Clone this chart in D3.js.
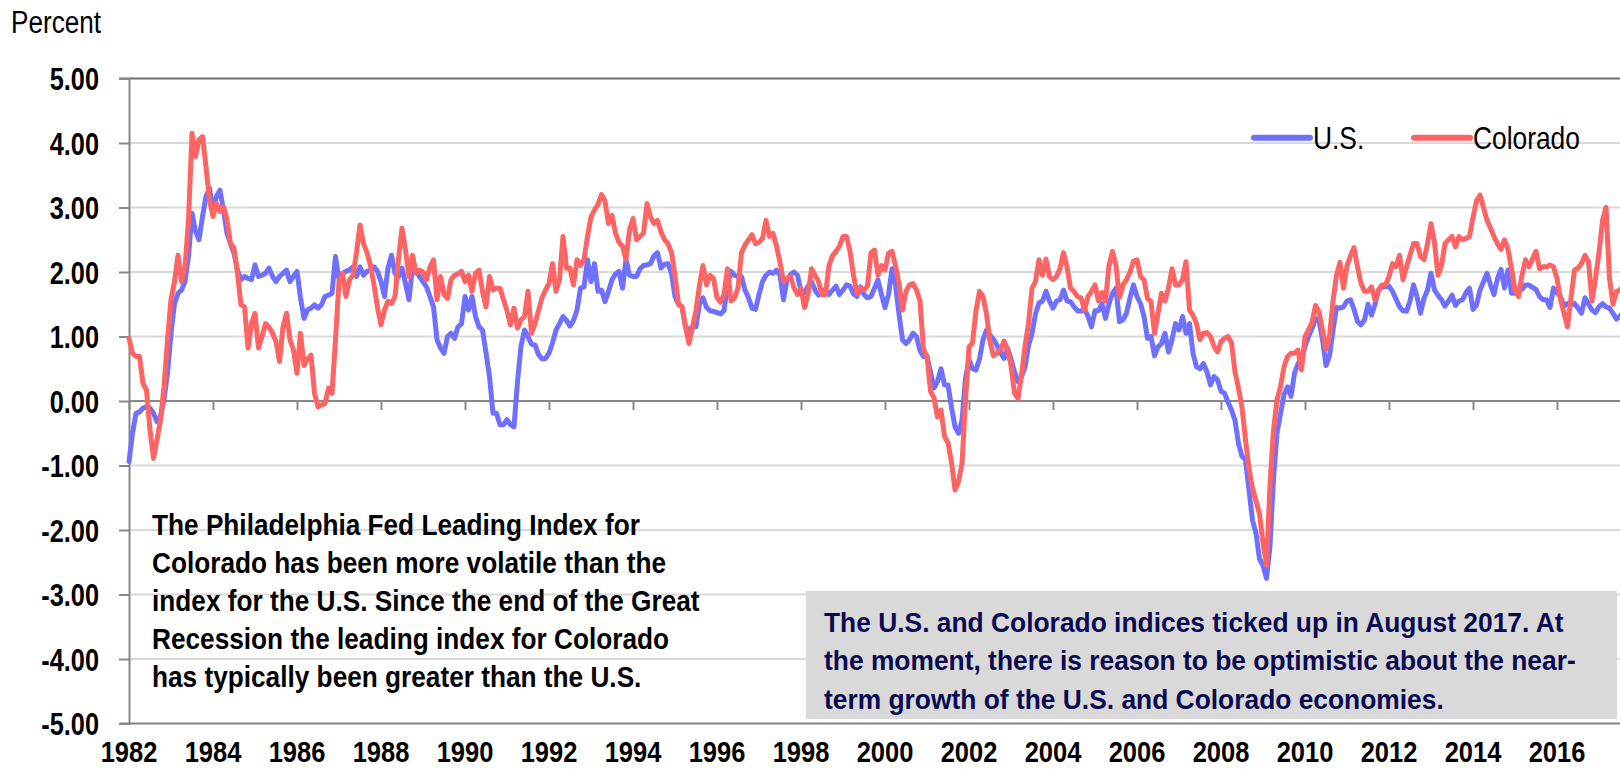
<!DOCTYPE html>
<html><head><meta charset="utf-8">
<script src="https://cdn.jsdelivr.net/npm/d3@7"></script>
<style>
html,body{margin:0;padding:0;background:#fff;}
svg{display:block;}
</style></head><body><svg id="chart" width="1620" height="769"></svg>
<script>
// Monthly values, Jan 1982 .. Aug 2017
const startYear = 1982;
const usValues = [
-0.94,-0.50,-0.19,-0.17,-0.11,-0.09,-0.11,-0.19,-0.32,-0.24,
0.02,0.43,1.05,1.51,1.67,1.72,1.85,2.24,2.91,2.63,
2.50,2.86,3.17,3.30,2.96,3.17,3.27,2.96,2.60,2.44,
2.29,2.03,1.88,1.93,1.90,1.88,2.11,1.93,1.95,1.98,
2.06,1.93,1.85,1.93,1.98,2.03,1.85,1.93,2.01,1.60,
1.28,1.41,1.44,1.49,1.44,1.49,1.62,1.64,1.67,2.24,
1.88,1.98,2.01,2.03,2.08,1.93,2.08,1.95,2.01,2.03,
2.08,2.01,1.85,1.62,2.06,2.26,1.98,1.93,2.06,1.82,
1.57,2.08,2.01,1.93,1.85,1.77,1.62,1.46,0.95,0.82,
0.74,1.00,1.05,0.97,1.15,1.20,1.62,1.41,1.62,1.31,
1.15,1.10,0.75,0.38,-0.19,-0.19,-0.37,-0.37,-0.29,-0.37,
-0.40,0.30,0.85,1.10,1.00,0.88,0.87,0.72,0.65,0.66,
0.74,0.90,1.10,1.20,1.31,1.25,1.16,1.25,1.41,1.75,
1.77,2.19,1.85,2.13,1.70,1.72,1.54,1.70,1.88,1.97,
2.01,1.75,2.19,1.95,1.93,1.93,2.05,2.10,2.11,2.13,
2.25,2.30,2.06,2.12,2.13,1.98,1.62,1.50,1.46,1.15,
1.10,1.15,1.15,1.51,1.60,1.45,1.40,1.39,1.37,1.35,
1.40,1.80,2.01,1.95,1.93,1.93,1.72,1.60,1.44,1.42,
1.65,1.85,1.95,2.00,1.98,2.03,1.95,1.57,1.88,1.96,
2.00,1.95,1.70,1.68,1.78,1.85,1.72,1.64,1.72,1.72,
1.65,1.72,1.78,1.65,1.72,1.80,1.78,1.66,1.62,1.77,
1.65,1.60,1.62,1.75,1.88,1.65,1.45,1.65,2.05,1.80,
1.35,0.95,0.89,0.95,1.05,1.00,0.78,0.69,0.69,0.45,
0.20,0.30,0.50,0.25,0.25,-0.10,-0.40,-0.50,-0.30,0.35,
0.64,0.50,0.48,0.65,0.95,1.10,1.02,0.96,0.86,0.75,
0.66,0.82,0.65,0.45,0.30,0.38,0.52,0.86,1.05,1.35,
1.52,1.55,1.70,1.55,1.44,1.55,1.57,1.72,1.55,1.54,
1.46,1.40,1.39,1.43,1.31,1.15,1.40,1.40,1.51,1.28,
1.51,1.67,1.75,1.23,1.26,1.36,1.60,1.80,1.62,1.51,
1.31,0.97,1.00,0.70,0.84,0.89,1.05,0.76,0.95,1.20,
1.10,1.31,1.05,1.20,0.74,0.53,0.50,0.58,0.45,0.25,
0.38,0.33,0.15,0.12,-0.02,-0.14,-0.30,-0.66,-0.86,-0.91,
-1.38,-1.85,-2.05,-2.45,-2.55,-2.75,-2.25,-1.20,-0.50,-0.20,
0.10,0.22,0.07,0.43,0.58,0.64,0.84,1.00,1.12,1.28,
1.25,0.95,0.55,0.70,1.10,1.45,1.44,1.46,1.55,1.57,
1.42,1.23,1.18,1.26,1.50,1.33,1.50,1.72,1.77,1.77,
1.78,1.70,1.58,1.46,1.40,1.39,1.55,1.80,1.62,1.36,
1.59,1.72,1.98,1.72,1.64,1.57,1.47,1.55,1.64,1.48,
1.55,1.57,1.68,1.75,1.42,1.49,1.72,1.85,1.98,1.80,
1.65,1.90,2.04,1.75,2.03,1.67,1.67,1.72,1.73,1.80,
1.80,1.76,1.73,1.62,1.57,1.57,1.45,1.75,1.68,1.62,
1.47,1.51,1.49,1.51,1.44,1.36,1.60,1.50,1.41,1.37,
1.46,1.51,1.46,1.44,1.36,1.27,1.31,1.40
];
const coValues = [
0.97,0.74,0.69,0.69,0.27,0.17,-0.45,-0.89,-0.60,-0.29,
0.22,0.95,1.57,1.85,2.26,1.85,2.08,2.81,4.15,3.79,
4.05,4.10,3.63,3.12,2.86,3.06,2.94,3.01,2.81,2.44,
2.37,1.98,1.49,1.46,0.82,1.20,1.36,0.82,1.00,1.20,
1.15,1.05,0.92,0.61,1.15,1.36,0.95,0.79,0.43,1.05,
0.55,0.65,0.71,0.12,-0.09,-0.06,-0.04,0.20,0.12,0.95,
1.85,1.98,1.62,1.88,1.95,2.30,2.73,2.44,2.30,2.10,
1.80,1.45,1.18,1.41,1.55,1.51,1.62,2.20,2.68,2.34,
1.93,2.26,1.98,2.03,2.00,1.88,2.08,2.19,1.57,1.93,
1.65,1.59,1.88,1.95,1.97,2.01,1.85,1.95,1.70,1.98,
2.03,1.70,1.46,1.93,1.72,1.75,1.75,1.57,1.40,1.18,
1.44,1.13,1.26,1.31,1.70,1.05,1.20,1.40,1.60,1.72,
1.82,2.13,1.70,1.88,2.55,2.06,2.06,1.80,2.19,2.10,
2.20,2.55,2.85,2.96,3.05,3.20,3.10,2.75,2.88,2.60,
2.46,2.40,2.19,2.65,2.83,2.50,2.55,2.60,3.06,2.85,
2.75,2.80,2.62,2.50,2.44,2.30,1.95,1.50,1.46,1.15,
0.89,1.15,1.40,1.80,2.10,1.80,1.95,1.90,1.60,1.53,
1.65,2.05,1.55,1.60,1.75,2.30,2.42,2.50,2.58,2.44,
2.46,2.52,2.80,2.55,2.60,2.40,2.15,1.85,1.90,1.93,
1.75,1.65,1.75,1.45,1.65,2.05,1.95,1.85,1.65,1.65,
2.10,2.25,2.32,2.40,2.55,2.55,2.32,1.95,1.67,1.75,
1.72,1.78,2.30,2.34,1.95,2.10,2.03,2.29,2.32,2.10,
1.82,1.41,1.70,1.80,1.82,1.72,1.55,0.80,0.69,0.15,
0.05,-0.25,-0.14,-0.55,-0.65,-0.95,-1.38,-1.25,-0.97,0.00,
0.84,0.90,1.40,1.70,1.62,1.35,0.92,0.70,0.74,0.79,
0.93,0.80,0.55,0.12,0.04,0.40,0.85,1.20,1.75,1.85,
2.19,1.95,2.20,1.93,1.88,1.93,2.05,2.30,2.08,1.75,
1.70,1.62,1.60,1.41,1.62,1.70,1.80,1.55,1.68,1.55,
2.10,2.32,2.10,1.60,1.80,1.88,2.00,2.17,2.19,1.93,
1.88,1.59,1.54,1.05,1.36,1.67,1.55,1.75,2.05,1.80,
1.80,1.88,2.16,1.41,1.33,1.20,0.95,1.05,1.06,1.00,
0.85,0.76,0.92,0.97,1.00,0.90,0.45,0.20,-0.10,-0.60,
-1.05,-1.35,-1.55,-1.75,-2.20,-2.55,-1.30,-0.45,0.02,0.22,
0.53,0.69,0.74,0.74,0.79,0.48,1.00,1.10,1.22,1.48,
1.38,1.10,0.80,1.00,1.55,1.95,2.15,1.75,2.10,2.25,
2.38,2.08,1.82,1.70,1.70,1.77,1.57,1.72,1.80,1.80,
1.93,2.13,2.08,2.26,1.88,2.08,2.26,2.44,2.44,2.24,
2.19,2.44,2.75,2.45,1.95,2.10,2.44,2.50,2.55,2.39,
2.55,2.50,2.52,2.55,2.85,3.10,3.19,3.00,2.80,2.68,
2.55,2.44,2.35,2.50,2.35,2.05,1.72,1.62,1.95,2.19,
2.08,2.20,2.32,2.05,2.08,2.08,2.11,2.08,1.90,1.57,
1.36,1.15,1.60,2.03,2.06,2.13,2.26,2.16,1.55,1.90,
2.30,2.80,3.00,1.90,1.50,1.70,1.72,1.80
];
const seriesNames = ["U.S.", "Colorado"];
const seriesColors = ["#7070ff", "#ff6464"];
const xTickYears = [1982,1984,1986,1988,1990,1992,1994,1996,1998,2000,2002,2004,2006,2008,2010,2012,2014,2016];
const yTickValues = [-5,-4,-3,-2,-1,0,1,2,3,4,5];
const yAxisTitle = "Percent";
const leftNote = [
  "The Philadelphia Fed Leading Index for",
  "Colorado has been more volatile than the",
  "index for the U.S. Since the end of the Great",
  "Recession the leading index for Colorado",
  "has typically been greater than the U.S."
];
const boxNote = [
  "The U.S. and Colorado indices ticked up in August 2017. At",
  "the moment, there is reason to be optimistic about the near-",
  "term growth of the U.S. and Colorado economies."
];

const FONT = '"Liberation Sans",Arial,"Helvetica",sans-serif';
const svg = d3.select("#chart");
const W = 1620, H = 769;
const x = d3.scaleLinear().domain([1982, 2018]).range([129, 1641]);
const y = d3.scaleLinear().domain([-5, 5]).range([723.5, 78.5]);
const left = x(1982);

// condense a group of texts horizontally so that one reference text gets a target width
function condense(sel, refIndex, targetWidth) {
  const nodes = sel.nodes();
  const w = nodes[refIndex].getComputedTextLength();
  const s = w > 0 ? targetWidth / w : 1;
  sel.each(function () {
    const t = d3.select(this);
    const tx = +t.attr("x") || 0, ty = +t.attr("y") || 0;
    t.attr("transform", `translate(${tx},${ty}) scale(${s},1)`).attr("x", 0).attr("y", 0);
  });
}

// gridlines
svg.append("g").selectAll("line")
  .data(yTickValues.filter(v => v !== 0 && v !== 5 && v !== -5))
  .join("line")
  .attr("x1", left).attr("x2", W)
  .attr("y1", d => y(d)).attr("y2", d => y(d))
  .attr("stroke", "#d9d9d9").attr("stroke-width", 2);

// top and bottom borders
[5, -5].forEach(v => {
  svg.append("line").attr("x1", left - 10).attr("x2", W)
    .attr("y1", y(v)).attr("y2", y(v))
    .attr("stroke", v === 5 ? "#6e6e6e" : "#808080").attr("stroke-width", 2);
});

// y axis
const yAxis = d3.axisLeft(y).tickValues(yTickValues).tickSize(10)
  .tickFormat(d => d.toFixed(2));
const gy = svg.append("g").attr("transform", `translate(${left},0)`).call(yAxis);
gy.select(".domain").attr("stroke", "#888").attr("stroke-width", 2);
gy.selectAll(".tick line").attr("stroke", "#888").attr("stroke-width", 2);
gy.selectAll(".tick text").attr("x", -30).attr("y", 0).attr("dy", "0.36em")
  .style("font-family", FONT).style("font-size", "31px").style("font-weight", "bold")
  .attr("fill", "#000");
condense(gy.selectAll(".tick text"), 10, 49.3);

// zero axis with ticks
const xAxis = d3.axisBottom(x).tickValues(xTickYears).tickSize(9).tickFormat("");
const gx = svg.append("g").attr("transform", `translate(0,${y(0)})`).call(xAxis);
gx.select(".domain").attr("d", `M${left},0H${W}`).attr("stroke", "#888").attr("stroke-width", 2);
gx.selectAll(".tick line").attr("stroke", "#888").attr("stroke-width", 2);

// x labels at bottom
const xl = svg.append("g").selectAll("text").data(xTickYears).join("text")
  .attr("x", d => x(d)).attr("y", 762)
  .attr("text-anchor", "middle")
  .style("font-family", FONT).style("font-size", "30px").style("font-weight", "bold")
  .text(d => String(d));
condense(xl, 0, 56.7);

// y title
const yt = svg.append("text").attr("x", 11).attr("y", 33)
  .style("font-family", FONT).style("font-size", "31px")
  .text(yAxisTitle);
condense(yt, 0, 90);

// lines
const line = d3.line()
  .x((d, i) => x(startYear + i / 12))
  .y(d => y(d))
  .curve(d3.curveLinear);
[usValues, coValues].forEach((vals, k) => {
  svg.append("path").datum(vals)
    .attr("d", line)
    .attr("fill", "none")
    .attr("stroke", seriesColors[k])
    .attr("stroke-width", 5)
    .attr("stroke-linejoin", "round")
    .attr("stroke-linecap", "round");
});

// legend
const legendX = [1254, 1414];
seriesNames.forEach((name, k) => {
  svg.append("line").attr("x1", legendX[k]).attr("x2", legendX[k] + 56)
    .attr("y1", 137.7).attr("y2", 137.7)
    .attr("stroke", seriesColors[k]).attr("stroke-width", 6).attr("stroke-linecap", "round");
});
const lt = svg.append("g").selectAll("text").data(seriesNames).join("text")
  .attr("x", (d, k) => legendX[k] + 59).attr("y", 149)
  .style("font-family", FONT).style("font-size", "32px")
  .text(d => d);
condense(lt, 1, 107);

// left note
const ln = svg.append("g").selectAll("text").data(leftNote).join("text")
  .attr("x", 152).attr("y", (d, i) => 535 + i * 38)
  .style("font-family", FONT).style("font-size", "30px").style("font-weight", "bold")
  .attr("fill", "#000")
  .text(d => d);
condense(ln, 2, 548);

// gray box note
svg.append("rect").attr("x", 806).attr("y", 591).attr("width", 811).attr("height", 128)
  .attr("fill", "#d9d9d9");
const bn = svg.append("g").selectAll("text").data(boxNote).join("text")
  .attr("x", 824).attr("y", (d, i) => 632 + i * 38.3)
  .style("font-family", FONT).style("font-size", "28px").style("font-weight", "bold")
  .attr("fill", "#0a0a50")
  .text(d => d);
condense(bn, 0, 740);
</script></body></html>
